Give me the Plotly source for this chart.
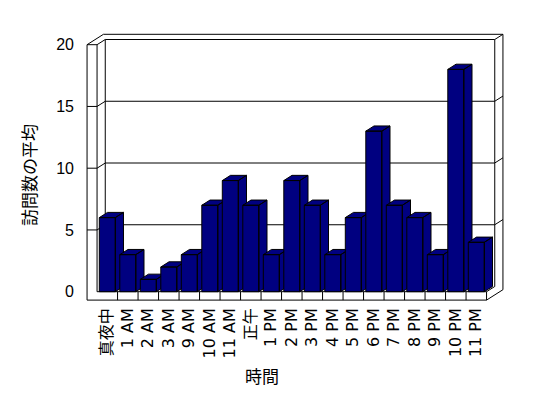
import plotly.graph_objects as go

# ---- data ----
categories = ["真夜中", "1 AM", "2 AM", "3 AM", "9 AM", "10 AM", "11 AM", "正午",
              "1 PM", "2 PM", "3 PM", "4 PM", "5 PM", "6 PM", "7 PM", "8 PM",
              "9 PM", "10 PM", "11 PM"]
values = [6, 3, 1, 2, 3, 7, 9, 7, 3, 9, 7, 3, 6, 13, 7, 6, 3, 18, 4]
y_ticks = [0, 5, 10, 15, 20]
x_title = "時間"
y_title = "訪問数の平均"

# ---- geometry / style ----
# the page body has an 8px margin, so the figure is 8px smaller and all
# pixel anchors are measured in figure coordinates (reference - 8)
BAR_COLOR = "#000080"
EDGE = "black"
W, H = 540, 390
ML, MR, MT, MB = 78, 43, 25, 97
PX_PER_CAT = 20.5
PX_PER_VAL = 12.35
X0_PX = 99.3
Y0_PX = 283.7
x_range = [(ML - X0_PX) / PX_PER_CAT, (W - MR - X0_PX) / PX_PER_CAT]
y_range = [(Y0_PX - (H - MB)) / PX_PER_VAL, (Y0_PX - MT) / PX_PER_VAL]
DX = 8.2 / PX_PER_CAT      # depth offset (category units)
DY = 5.2 / PX_PER_VAL      # depth offset (value units)
HALF = 0.39                # half bar width
n = len(categories)
XL, XR = -0.5, n - 0.5     # inner floor extents
XO = XL - 10 / PX_PER_CAT  # outer face of left wall
YB = -8.4 / PX_PER_VAL     # floor bottom
YMAX = max(y_ticks)

fig = go.Figure()

# 3D bars: side, top and front faces built from the values
for i, v in enumerate(values):
    l, r = i - HALF, i + HALF
    xs = [r, r + DX, r + DX, r, r, None,
          l, r, r + DX, l + DX, l, None,
          l, r, r, l, l]
    ys = [0, DY, v + DY, v, 0, None,
          v, v, v + DY, v + DY, v, None,
          0, 0, v, v, 0]
    fig.add_trace(go.Scatter(x=xs, y=ys, mode="lines", fill="toself",
                             fillcolor=BAR_COLOR,
                             line=dict(color=EDGE, width=1),
                             hoverinfo="skip", showlegend=False))

# walls and floor outlines
segs = []
def seg(x0, y0, x1, y1):
    segs.append((x0, y0, x1, y1))

# left wall front face
seg(XO, YB, XO, YMAX)
seg(XL, 0, XL, YMAX)
seg(XO, YMAX, XL, YMAX)
seg(XO, YMAX, XO + 2 * DX, YMAX + 2 * DY)
seg(XL, YMAX, XL + DX, YMAX + DY)
# back wall
seg(XL + DX, YMAX + DY, XR + DX, YMAX + DY)
seg(XL + DX, DY, XL + DX, YMAX + DY)
seg(XR + DX, DY, XR + DX, YMAX + DY)
seg(XO + 2 * DX, YMAX + 2 * DY, XR + 2 * DX, YMAX + 2 * DY)
seg(XR + 2 * DX, YB + 2 * DY, XR + 2 * DX, YMAX + 2 * DY)
seg(XR + DX, YMAX + DY, XR + 2 * DX, YMAX + 2 * DY)
# gridlines
for t in y_ticks[1:-1]:
    seg(XO, t, XL, t)
    seg(XL, t, XL + DX, t + DY)
    seg(XL + DX, t + DY, XR + DX, t + DY)
    seg(XR + DX, t + DY, XR + 2 * DX, t + 2 * DY)
# floor
seg(XL, 0, XR, 0)
seg(XO, YB, XR, YB)
seg(XR, YB, XR, 0)
seg(XR, 0, XR + DX, DY)
seg(XR, YB, XR + 2 * DX, YB + 2 * DY)
for i in range(n - 1):
    seg(i + 0.5, YB, i + 0.5, 0)

for (x0, y0, x1, y1) in segs:
    fig.add_shape(type="line", xref="x", yref="y", x0=x0, y0=y0, x1=x1, y1=y1,
                  line=dict(color=EDGE, width=1), layer="below")

FONT = "Liberation Sans, Arial, Noto Sans CJK JP, sans-serif"
PW, PH = W - ML - MR, H - MT - MB

fig.update_layout(
    template="none",
    width=W, height=H,
    margin=dict(l=ML, r=MR, t=MT, b=MB, pad=0, autoexpand=False),
    paper_bgcolor="white", plot_bgcolor="white",
    font=dict(family=FONT, size=16, color="black"),
    xaxis=dict(range=x_range, tickmode="array", tickvals=list(range(n)),
               ticktext=categories, tickangle=-90, showgrid=False,
               zeroline=False, showline=False, ticks="", automargin=False,
               ticklabelstandoff=3,
               tickfont=dict(size=16, color="black",
                             family="DejaVu Sans, Noto Sans CJK JP")),
    yaxis=dict(range=y_range, tickmode="array", tickvals=y_ticks,
               showgrid=False, zeroline=False, showline=False, ticks="",
               automargin=False, ticklabelstandoff=11,
               tickfont=dict(size=16, color="black")),
    annotations=[
        dict(text=x_title, xref="paper", yref="paper",
             x=(254 - ML) / PW, y=-(367 - (H - MB)) / PH,
             showarrow=False, xanchor="center", yanchor="middle",
             font=dict(size=17, color="black", family="Noto Sans CJK JP")),
        dict(text=y_title, xref="paper", yref="paper",
             x=(20 - ML) / PW, y=((H - MB) - 167) / PH,
             showarrow=False, xanchor="center", yanchor="middle", textangle=-90,
             font=dict(size=17, color="black", family="Noto Sans CJK JP")),
    ],
)

fig.write_html("out.html")
